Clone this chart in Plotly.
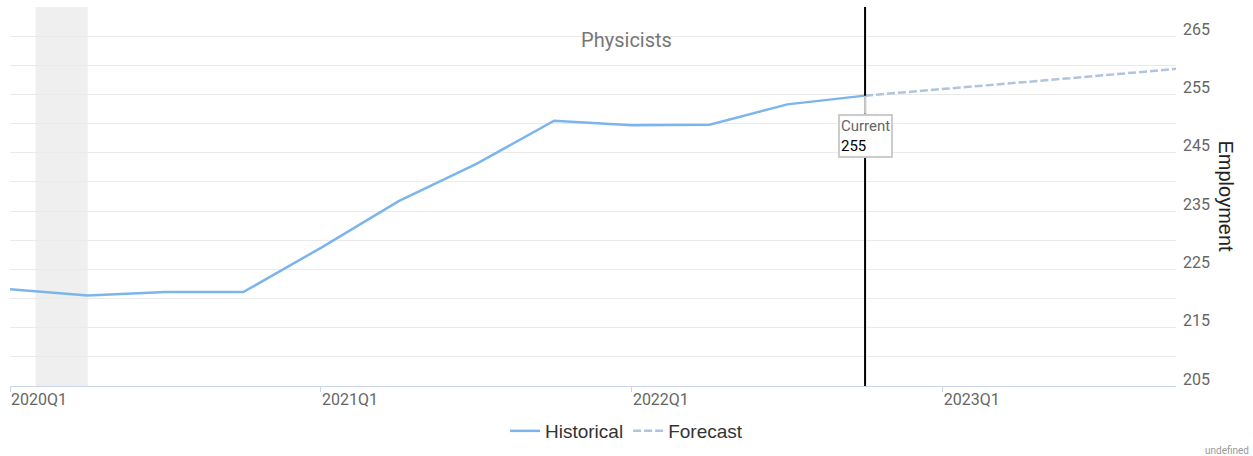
import plotly.graph_objects as go

quarters = ["2020Q1", "2020Q2", "2020Q3", "2020Q4",
            "2021Q1", "2021Q2", "2021Q3", "2021Q4",
            "2022Q1", "2022Q2", "2022Q3", "2022Q4",
            "2023Q1", "2023Q2", "2023Q3", "2023Q4"]
hist_quarters = quarters[:12]
hist_values = [221.6, 220.5, 221.1, 221.1, 228.7, 236.7, 243.1, 250.5, 249.7, 249.8, 253.3, 254.8]
fc_quarters = quarters[11:]
fc_values = [254.8, 255.9, 257.0, 258.2, 259.4]
current_label = "Current"
current_value = 255
recession_start = 0.33   # in quarter units
recession_end = 1.0

fig = go.Figure()
fig.add_trace(go.Scatter(x=hist_quarters, y=hist_values, mode="lines", name="Historical",
                         line=dict(color="#7cb5ec", width=2.5)))
fig.add_trace(go.Scatter(x=fc_quarters, y=fc_values, mode="lines", name="Forecast",
                         line=dict(color="#b0c4de", width=2.5, dash="8px,3px")))

fig.add_shape(type="rect", xref="x", yref="paper", x0=recession_start, x1=recession_end,
              y0=0, y1=1, fillcolor="#efefef", line_width=0, layer="below")
fig.add_shape(type="line", xref="x", yref="paper", x0=hist_quarters[-1], x1=hist_quarters[-1],
              y0=0, y1=1, line=dict(color="black", width=2))

fig.add_annotation(x=hist_quarters[-1], y=hist_values[-1], xref="x", yref="y",
                   text=f"<span style='color:#666'>{current_label}</span><br><span style='color:#000'>{current_value}</span>",
                   showarrow=True, arrowhead=0, arrowwidth=2, arrowcolor="#cccccc",
                   ax=0, ay=18, yanchor="top", align="left",
                   bgcolor="white", bordercolor="#cccccc", borderwidth=2, borderpad=1,
                   font=dict(family="Roboto", size=15))

fig.add_annotation(x=1.0429, y=0.5, xref="paper", yref="paper", text="Employment",
                   textangle=90, showarrow=False, xanchor="center", yanchor="middle",
                   font=dict(family="Liberation Sans", size=20, color="#222"))
fig.add_annotation(x=1.0643, y=-0.171, xref="paper", yref="paper", text="undefined",
                   xanchor="right", yanchor="middle", showarrow=False,
                   font=dict(family="Roboto", size=10, color="#999"))

fig.update_layout(
    width=1253, height=456,
    margin=dict(l=10, r=77, t=7, b=70, autoexpand=False),
    paper_bgcolor="white", plot_bgcolor="white",
    title=dict(text="Physicists", x=0.5, xref="container", y=1 - 40 / 456, yref="container",
               xanchor="center", yanchor="middle",
               font=dict(family="Roboto", size=20, color="#777")),
    legend=dict(orientation="h", x=0.5, xref="container", xanchor="center",
                y=1 - 431 / 456, yref="container", yanchor="middle",
                font=dict(family="Liberation Sans", size=19, color="#333")),
    showlegend=True,
)
fig.update_xaxes(type="category", categoryorder="array", categoryarray=quarters,
                 range=[0, 15], tickmode="linear", tick0=0, dtick=4, automargin=False,
                 showgrid=False, showline=True, linecolor="#ccd6eb", linewidth=1,
                 ticks="outside", ticklen=5, tickcolor="#ccd6eb",
                 ticklabelshift=29, ticklabelstandoff=-6,
                 tickfont=dict(family="Roboto", size=16, color="#666"), zeroline=False)
fig.update_yaxes(side="right", range=[205, 270], tickmode="linear", tick0=205, dtick=10,
                 automargin=False,
                 showgrid=True, gridcolor="#eaeaea", gridwidth=1,
                 minor=dict(dtick=5, tick0=205, showgrid=True, gridcolor="#eaeaea", gridwidth=1),
                 ticks="", ticklabelshift=-7, ticklabelstandoff=6,
                 tickfont=dict(family="Roboto", size=16, color="#666"), zeroline=False,
                 showline=False)

fig.write_html("out.html")
